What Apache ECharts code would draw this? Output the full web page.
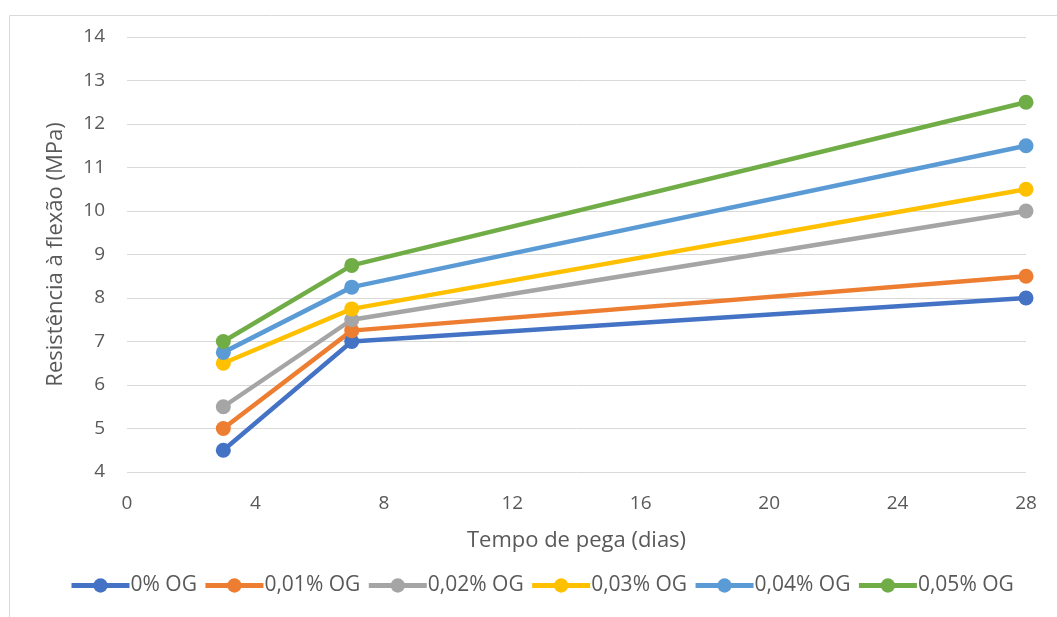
<!DOCTYPE html>
<html><head><meta charset="utf-8">
<script src="https://cdn.jsdelivr.net/npm/echarts@6/dist/echarts.min.js"></script>
<style>html,body{margin:0;padding:0;background:#fff}#c{width:1057px;height:617px}</style>
</head><body><div id="c"></div>
<script>
const days = [3, 7, 28];
const seriesNames = ['0% OG', '0,01% OG', '0,02% OG', '0,03% OG', '0,04% OG', '0,05% OG'];
const og0 = [4.5, 7.0, 8.0];
const og001 = [5.0, 7.25, 8.5];
const og002 = [5.5, 7.5, 10.0];
const og003 = [6.5, 7.75, 10.5];
const og004 = [6.75, 8.25, 11.5];
const og005 = [7.0, 8.75, 12.5];
const colors = ['#4472C4', '#ED7D31', '#A5A5A5', '#FFC000', '#5B9BD5', '#70AD47'];
const allValues = [og0, og001, og002, og003, og004, og005];

const chart = echarts.init(document.getElementById('c'));
const font = 'Open Sans';
chart.setOption({
  animation: false,
  color: colors,
  textStyle: {fontFamily: font},
  graphic: [{type: 'rect', left: 7, top: 13, shape: {width: 1080, height: 640}, style: {fill: 'none', stroke: '#d9d9d9', lineWidth: 1}, silent: true}],
  grid: {left: 127, right: 31, top: 37, bottom: 145},
  legend: {
    top: 570, left: 64, itemWidth: 58, itemHeight: 18, itemGap: 6,
    lineStyle: {width: 5},
    textStyle: {color: '#595959', fontSize: 21, fontFamily: font, padding: [0, 0, 0, -4]},
    data: seriesNames
  },
  xAxis: {
    type: 'value', min: 0, max: 28, interval: 4,
    name: 'Tempo de pega (dias)', nameLocation: 'middle', nameGap: 58,
    nameTextStyle: {color: '#595959', fontSize: 22, fontFamily: font},
    axisLine: {show: false}, axisTick: {show: false}, splitLine: {show: false},
    axisLabel: {color: '#595959', fontSize: 19, margin: 22, fontFamily: font}
  },
  yAxis: {
    type: 'value', min: 4, max: 14, interval: 1,
    name: 'Resistência à flexão (MPa)', nameLocation: 'middle', nameGap: 60,
    nameTextStyle: {color: '#595959', fontSize: 22, fontFamily: font},
    axisLine: {show: false}, axisTick: {show: false},
    splitLine: {lineStyle: {color: '#d9d9d9', width: 1}},
    axisLabel: {color: '#595959', fontSize: 19, margin: 22, fontFamily: font}
  },
  series: seriesNames.map((n, i) => ({
    name: n, type: 'line',
    data: days.map((d, j) => [d, allValues[i][j]]),
    symbol: 'circle', symbolSize: 15,
    lineStyle: {width: 4.5, color: colors[i]},
    itemStyle: {color: colors[i]}
  }))
});
</script></body></html>
